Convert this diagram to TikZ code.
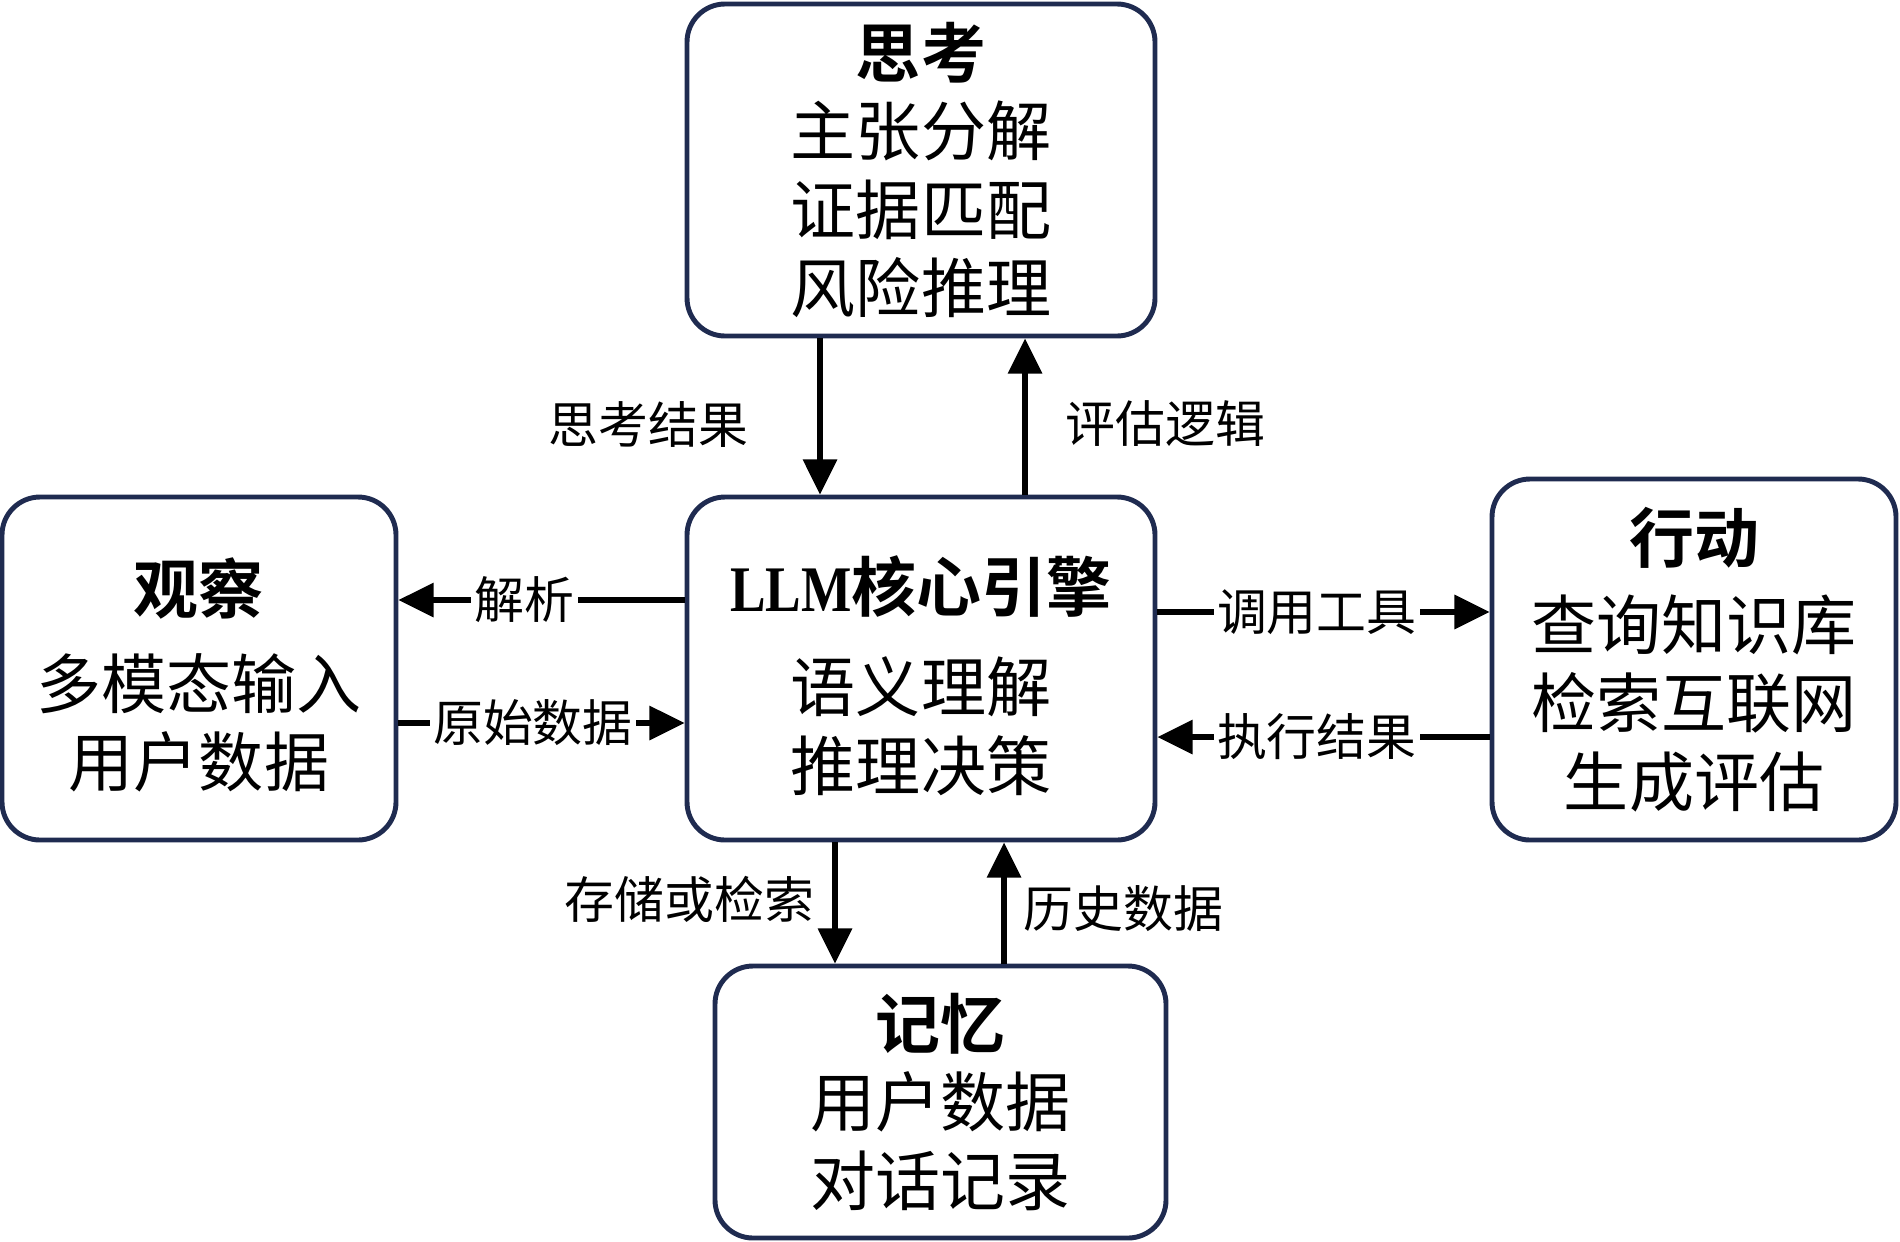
\documentclass[tikz,border=0pt]{standalone}
\usepackage{fontspec}
\usetikzlibrary{arrows.meta}
\newfontfamily\cjk[BoldFont={Noto Sans CJK SC Bold}]{Noto Sans CJK SC}
\newfontfamily\latinbold{Liberation Serif}
\definecolor{navy}{HTML}{1F2B50}
\tikzset{
  box/.style={draw=navy, line width=1.4pt, rounded corners=0.38cm, align=center, inner sep=0pt,
    font=\cjk\fontsize{18.5}{22.35}\selectfont},
  arr/.style={draw=black, line width=1.5pt, -{Triangle[length=10pt,width=9.5pt]}},
  lbl/.style={font=\cjk\fontsize{14.2}{16}\selectfont, inner sep=2pt},
  onlbl/.style={lbl, fill=white, inner xsep=1pt}
}
\begin{document}
\begin{tikzpicture}
\useasboundingbox (0,0) rectangle (19,-12.41);
% boxes
\node[box, minimum width=4.68cm, minimum height=3.32cm] (think) at (9.21,-1.70)
  {{\bfseries 思考}\\ 主张分解\\ 证据匹配\\ 风险推理};
\node[box, minimum width=4.68cm, minimum height=3.43cm] (core) at (9.21,-6.685)
  {\rule{0pt}{20pt}{\bfseries\latinbold\scalebox{0.82}[1]{LLM}\cjk 核心引擎}\\[6pt] 语义理解\\ 推理决策};
\node[box, minimum width=3.94cm, minimum height=3.43cm] (obs) at (1.99,-6.685)
  {\rule{0pt}{19.5pt}{\bfseries 观察}\\[4.8pt] 多模态输入\\ 用户数据};
\node[box, minimum width=4.04cm, minimum height=3.61cm] (act) at (16.94,-6.595)
  {{\bfseries 行动}\\[2.4pt] 查询知识库\\ 检索互联网\\ 生成评估};
\node[box, minimum width=4.51cm, minimum height=2.72cm] (mem) at (9.405,-11.02)
  {{\bfseries 记忆}\\ 用户数据\\ 对话记录};
% helper coordinates
\coordinate (xa) at (8.20,0);
\coordinate (xb) at (10.25,0);
\coordinate (xc) at (8.35,0);
\coordinate (xd) at (10.04,0);
\coordinate (ya) at (0,-6.00);
\coordinate (yb) at (0,-7.23);
\coordinate (yc) at (0,-6.12);
\coordinate (yd) at (0,-7.37);
% vertical arrows top
\draw[arr] (think.south -| xa) -- (core.north -| xa);
\draw[arr] (core.north -| xb) -- (think.south -| xb);
\node[lbl, anchor=east] (l1) at (7.56,-4.24) {思考结果};
\node[lbl, anchor=west] (l2) at (10.58,-4.24) {评估逻辑};
% vertical arrows bottom
\draw[arr] (core.south -| xc) -- (mem.north -| xc);
\draw[arr] (mem.north -| xd) -- (core.south -| xd);
\node[lbl, anchor=east] (l3) at (8.22,-8.99) {存储或检索};
\node[lbl, anchor=west] (l4) at (10.16,-9.09) {历史数据};
% horizontal arrows left
\draw[arr] (core.west |- ya) -- node[onlbl, pos=0.56] (l5) {解析} (obs.east |- ya);
\draw[arr] (obs.east |- yb) -- node[onlbl, pos=0.47] (l6) {原始数据} (core.west |- yb);
% horizontal arrows right
\draw[arr] (core.east |- yc) -- node[onlbl, pos=0.48] (l7) {调用工具} (act.west |- yc);
\draw[arr] (act.west |- yd) -- node[onlbl, pos=0.52] (l8) {执行结果} (core.east |- yd);
\end{tikzpicture}
\end{document}
